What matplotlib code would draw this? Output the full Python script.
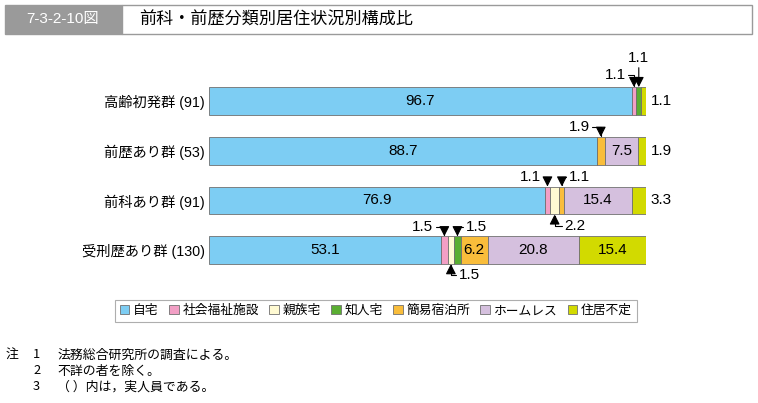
import matplotlib.pyplot as plt
from matplotlib.patches import Patch, Rectangle
import numpy as np

plt.rcParams['font.family'] = ['Liberation Sans', 'Noto Sans CJK JP']

groups = ['高齢初発群 (91)', '前歴あり群 (53)', '前科あり群 (91)', '受刑歴あり群 (130)']
categories = ['自宅', '社会福祉施設', '親族宅', '知人宅', '簡易宿泊所', 'ホームレス', '住居不定']
colors = ['#7dcdf3', '#f29fc5', '#fffad2', '#5aae32', '#f9bd3b', '#d5c0de', '#d2da00']

jitaku   = [96.7, 88.7, 76.9, 53.1]
fukushi  = [1.1, 0.0, 1.1, 1.5]
shinzoku = [0.0, 0.0, 2.2, 1.5]
chijin   = [1.1, 0.0, 0.0, 1.5]
kan_i    = [0.0, 1.9, 1.1, 6.2]
homeless = [0.0, 7.5, 15.4, 20.8]
futei    = [1.1, 1.9, 3.3, 15.4]

values = np.array([jitaku, fukushi, shinzoku, chijin, kan_i, homeless, futei])

fig = plt.figure(figsize=(7.58, 4.03), dpi=100)

# title bar
fig.patches.append(Rectangle((5/758, 1-34/403), 117/758, 29/403, transform=fig.transFigure,
                             facecolor='#9a9a9a', edgecolor='#9a9a9a'))
fig.patches.append(Rectangle((122/758, 1-34/403), 630/758, 29/403, transform=fig.transFigure,
                             facecolor='white', edgecolor='#9a9a9a', lw=1))
fig.text(63/758, 1-19.5/403, '7-3-2-10図', color='white', fontsize=11, ha='center', va='center',
         family=['Liberation Sans Narrow', 'Liberation Sans', 'Noto Sans CJK JP'])
fig.text(139/758, 1-19.5/403, '前科・前歴分類別居住状況別構成比', fontsize=12.3, ha='left', va='center')

ax = fig.add_axes([209/758, 118/403, 437/758, 225/403])
ax.set_xlim(0, 100)
ax.set_ylim(3.7, -0.825)
y = np.arange(len(groups))
left = np.zeros(len(groups))
for i, cat in enumerate(categories):
    ax.barh(y, values[i], left=left, height=0.56, color=colors[i],
            edgecolor='#707070', linewidth=0.6, label=cat)
    left += values[i]
starts = np.vstack([np.zeros(len(groups)), np.cumsum(values, axis=0)[:-1]])
mids = starts + values / 2

for s in ax.spines.values():
    s.set_visible(False)
ax.set_xticks([])
ax.set_yticks(y)
ax.set_yticklabels(groups, fontsize=10.3)
ax.tick_params(axis='y', length=0, pad=3)

# labels inside bars
fs = 11
inside = [(0, 0), (0, 1), (0, 2), (0, 3), (5, 1), (5, 2), (5, 3), (4, 3), (6, 3)]
for c, g in inside:
    ax.text(mids[c, g], g, f'{values[c, g]:.1f}', ha='center', va='center', fontsize=fs)

# labels outside right
for g in [0, 1, 2]:
    ax.text(103.5, g, f'{values[6, g]:.1f}', ha='center', va='center', fontsize=fs)

hb = 0.28
arrow = dict(arrowstyle='-|>,head_length=0.55,head_width=0.28', color='black', lw=0.8,
             shrinkA=0, shrinkB=0)

def elbow(c, g, side, where, dx, dy):
    # side: text left or right of the arrow; where: arrow hits bar top or bottom
    yy = g - hb if where == 'top' else g + hb
    ax.annotate(f'{values[c, g]:.1f}', xy=(mids[c, g], yy), xytext=(dx, dy),
                textcoords='offset points', fontsize=fs,
                ha='right' if side == 'left' else 'left', va='center',
                arrowprops=dict(arrow, connectionstyle='angle,angleA=0,angleB=90'))

elbow(1, 0, 'left', 'top', -6, 9)
ax.annotate('1.1', xy=(mids[3, 0], -hb), xytext=(0, 21), textcoords='offset points',
            fontsize=fs, ha='center', va='center',
            arrowprops=dict(arrow, connectionstyle='arc3'))
elbow(4, 1, 'left', 'top', -8, 7)
elbow(1, 2, 'left', 'top', -5, 7)
elbow(4, 2, 'right', 'top', 5, 7)
elbow(2, 2, 'right', 'bottom', 7, -8)
elbow(1, 3, 'left', 'top', -8, 7)
elbow(3, 3, 'right', 'top', 6, 7)
elbow(2, 3, 'right', 'bottom', 6, -8)

handles = [Patch(facecolor=colors[i], edgecolor='#707070', linewidth=0.6) for i in range(len(categories))]
leg = fig.legend(handles, categories, loc='center', bbox_to_anchor=(376/758, 1-311/403),
                 ncol=7, fontsize=9.2, frameon=True, fancybox=False, edgecolor='#9a9a9a',
                 handlelength=0.75, handleheight=0.75, handletextpad=0.3, columnspacing=0.8,
                 borderpad=0.35)
leg.get_frame().set_linewidth(0.8)

notes = [('注', '1', '法務総合研究所の調査による。'),
         ('', '2', '不詳の者を除く。'),
         ('', '3', '（ ）内は，実人員である。')]
for k, (a, b, t) in enumerate(notes):
    yy = 1 - (355 + 16 * k) / 403
    fig.text(6/758, yy, a, fontsize=9.3, va='center', family='Noto Sans CJK JP')
    fig.text(33/758, yy, b, fontsize=9.3, va='center', family='Noto Sans CJK JP')
    fig.text(57/758, yy, t, fontsize=9.3, va='center', family='Noto Sans CJK JP')

fig.savefig('out.png', dpi=100)
